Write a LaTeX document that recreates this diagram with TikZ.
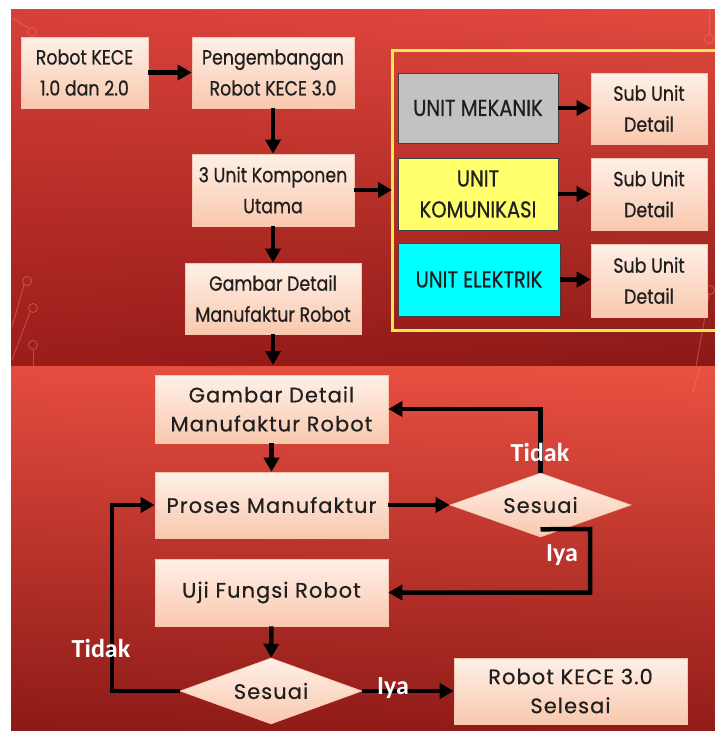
\documentclass[tikz,border=0pt]{standalone}
\usepackage{fontspec}
\setmainfont{Poppins}[LetterSpace=5,FakeBold=0.5]
\newfontfamily\topfont[FakeStretch=0.85,FakeBold=0.6]{Poppins}
\newfontfamily\lblfont{Carlito}
\usetikzlibrary{arrows.meta,shapes.geometric,calc,shadings}

\definecolor{topUL}{HTML}{D8403A}
\definecolor{topUR}{HTML}{E24A3E}
\definecolor{topLL}{HTML}{9A1C19}
\definecolor{topLR}{HTML}{891816}
\definecolor{botUL}{HTML}{E54C3F}
\definecolor{botUR}{HTML}{E95141}
\definecolor{botLL}{HTML}{8C1A17}
\definecolor{botLR}{HTML}{931C19}
\definecolor{peachTop}{HTML}{FFF0E7}
\definecolor{peachBot}{HTML}{F9C8AE}
\definecolor{peachEdge}{HTML}{F8C6AE}
\definecolor{frameYellow}{HTML}{F7EA4A}
\definecolor{unitGray}{HTML}{C2C2C2}
\definecolor{unitYellow}{HTML}{FFFF6B}
\definecolor{unitCyan}{HTML}{00FFFF}
\definecolor{decoLine}{HTML}{F2826A}

\tikzset{
  pbox/.style={draw=peachEdge, line width=0.6pt, top color=peachTop, bottom color=peachBot,
    align=center, inner sep=0pt, text=black!88},
  topbox/.style={pbox, font={\topfont\fontsize{20.5}{31}\selectfont}},
  botbox/.style={pbox, font={\fontsize{21}{29}\selectfont}},
  unitbox/.style={draw=black!75, line width=0.8pt, align=center, inner sep=0pt,
    minimum width=160pt, text=black!88, font={\topfont\fontsize{23}{31}\selectfont}},
  dia/.style={diamond, aspect=2.8, inner sep=0pt, draw=peachEdge, line width=0.6pt,
    top color=peachTop, bottom color=peachBot, text=black!88,
    font={\fontsize{21}{29}\selectfont}},
  arr/.style={line width=4.5pt, -{Triangle[length=14pt,width=15pt]}},
  lbl/.style={text=white, font={\lblfont\bfseries\fontsize{26}{30}\selectfont}, inner sep=0pt},
  deco/.style={draw=decoLine, line width=0.9pt, opacity=0.45}
}

\begin{document}
\begin{tikzpicture}[x=1pt,y=-1pt]
\useasboundingbox (0,0) rectangle (715,740);
\fill[white] (0,0) rectangle (715,740);

% background panels
\shade[upper left=topUL, upper right=topUR, lower left=topLL, lower right=topLR]
  (11,9) rectangle (715,366.5);
\shade[upper left=botUL, upper right=botUR, lower left=botLL, lower right=botLR]
  (11,366.5) rectangle (715,730);

% faint circuit traces
\draw[deco] (12,18) -- (28,28);
\draw[deco] (32,32) circle (4.5);
\draw[deco] (24,285) -- (12,327);
\draw[deco] (27,281) circle (4.5);
\draw[deco] (30,312) -- (12,360);
\draw[deco] (33,308) circle (4.5);
\draw[deco] (33,350) -- (33,366);
\draw[deco] (33,345) circle (4.5);
\draw[deco] (709,9) -- (709,34);
\draw[deco] (709,39) circle (4.5);
\draw[deco] (709,295) -- (696,366);
\draw[deco] (710,290) circle (4.5);
\draw[deco] (700,367) -- (693,392);

% ---------- upper flow ----------
\node[topbox, minimum width=127pt, minimum height=71pt] (r12) at (84.5,72.5)
  {Robot KECE\\1.0 dan 2.0};
\node[topbox, minimum width=162pt, minimum height=71pt] (peng) at (273,72.5)
  {Pengembangan\\Robot KECE 3.0};
\node[topbox, minimum width=162pt, minimum height=72pt] (komp) at (273,190)
  {3 Unit Komponen\\Utama};
\node[topbox, minimum width=176pt, minimum height=71pt] (gbr1) at (273,298.5)
  {Gambar Detail\\Manufaktur Robot};
\coordinate (topend) at (273,365);

% frame around the three units, open on the right
\coordinate (fl) at (392,50);
\draw[frameYellow, line width=3pt] (720,50) -- (fl) -- (392,330) -- (720,330);

\node[unitbox, fill=unitGray, minimum height=70pt] (mek) at (478,108) {UNIT MEKANIK};
\node[unitbox, fill=unitYellow, minimum height=72pt] (kom) at (478,194) {UNIT\\KOMUNIKASI};
\node[unitbox, fill=unitCyan, minimum width=162pt, minimum height=73pt] (ele) at (479,279.5) {UNIT ELEKTRIK};

\node[topbox, minimum width=116pt, minimum height=71pt] (sub1) at (649,108.5) {Sub Unit\\Detail};
\node[topbox, minimum width=116pt, minimum height=72pt] (sub2) at (649,194) {Sub Unit\\Detail};
\node[topbox, minimum width=116pt, minimum height=73pt] (sub3) at (649,280.5) {Sub Unit\\Detail};

\draw[arr] (r12) -- (peng);
\draw[arr] (peng) -- (komp);
\draw[arr] (komp.east) -- (komp.east -| fl);
\draw[arr] (komp) -- (gbr1);
\draw[arr] (gbr1.south) -- (topend);
\draw[arr] (mek.east) -- (mek.east -| sub1.west);
\draw[arr] (kom.east) -- (kom.east -| sub2.west);
\draw[arr] (ele.east) -- (ele.east -| sub3.west);

% ---------- lower flow ----------
\node[botbox, minimum width=233pt, minimum height=68pt] (gbr2) at (271.5,409)
  {Gambar Detail\\Manufaktur Robot};
\node[botbox, minimum width=233pt, minimum height=66pt] (pros) at (271.5,505)
  {Proses Manufaktur};
\node[botbox, minimum width=233pt, minimum height=67pt] (uji) at (271.5,592.5)
  {Uji Fungsi Robot};
\node[dia, minimum width=181pt, minimum height=64pt] (d1) at (540.5,505) {Sesuai};
\node[dia, minimum width=182pt, minimum height=66pt] (d2) at (271,691) {Sesuai};
\node[botbox, minimum width=233pt, minimum height=66pt] (fin) at (570.5,691)
  {Robot KECE 3.0\\Selesai};

\coordinate (yk) at (590,529);
\coordinate (tl) at (112,505);

\draw[arr] (gbr2) -- (pros);
\draw[arr] (pros) -- (d1);
\draw[arr] (d1.north) |- (gbr2.east);
\draw[arr] ($(d1.south)+(0,-8)$) -- (yk) |- (uji.east);
\draw[arr] (uji) -- (d2);
\draw[arr] (d2.west) -- (d2.west -| tl) |- (pros.west);
\draw[arr] (d2) -- (fin);

\node[lbl] (t1) at (540,452) {Tidak};
\node[lbl] (i1) at (562,555) {Iya};
\node[lbl] (t2) at (101,648) {Tidak};
\node[lbl] (i2) at (393,688) {Iya};
\end{tikzpicture}
\end{document}
